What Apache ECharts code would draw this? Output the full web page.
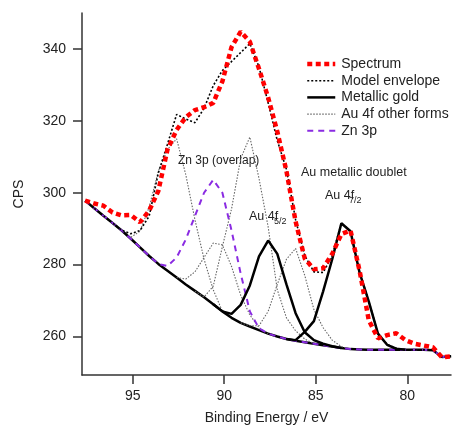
<!DOCTYPE html>
<html>
<head>
<meta charset="utf-8">
<script src="https://cdn.jsdelivr.net/npm/echarts@6/dist/echarts.min.js"></script>
<style>
html,body{margin:0;padding:0;background:#fff;}
#chart{width:454px;height:430px;}
</style>
</head>
<body>
<div id="chart"></div>
<script>
// Binding energies (eV)
const energies = [97.6,97.1,96.6,96.1,95.6,95.1,94.6,94.1,93.6,93.1,92.6,92.1,91.6,91.1,90.6,90.1,89.6,89.1,88.6,88.1,87.6,87.1,86.6,86.1,85.6,85.1,84.6,84.1,83.6,83.1,82.6,82.1,81.6,81.1,80.6,80.1,79.6,79.1,78.6,78.1,77.6];
const xTicks = [80,85,90,95];
const yTicks = [260,280,300,320,340];
const N = null;
const spectrum = [297.8,297.0,296.4,294.5,293.7,293.8,291.8,295.0,300.5,312.0,317.5,321.0,323.0,323.8,325.0,331.0,340.5,344.8,342.0,334.5,326.5,317.0,306.0,292.0,281.7,278.7,279.0,283.0,288.5,289.5,278.2,264.5,259.5,260.4,260.9,259.0,258.0,257.5,257.0,254.2,254.5];
const envelope = [297.8,295.7,293.6,291.6,289.6,288.6,289.5,293.5,305.5,313.5,321.8,320.5,319.5,323.5,329.8,334.0,336.5,339.0,341.5,335.0,325.0,314.5,306.5,292.5,282.5,278.0,277.8,282.5,291.5,289.3,277.7,269.8,260.8,257.8,256.7,256.3,256.3,256.3,256.2,254.3,254.5];
const background = [297.8,295.7,293.6,291.6,289.5,287.2,284.8,282.4,280.2,278.3,276.4,274.5,272.7,270.9,269.0,267.0,265.2,263.8,262.8,261.8,260.8,260.0,259.3,258.8,258.4,258.0,257.6,257.2,256.8,256.5,256.4,256.3,256.3,256.3,256.3,256.3,256.3,256.3,256.2,254.3,254.5];
const zn3p = [297.8,295.7,293.6,291.6,289.5,287.2,284.8,282.4,280.2,279.6,282.0,287.0,293.5,300.0,303.6,300.0,289.5,277.5,267.0,262.3,260.8,260.0,259.3,258.8,258.4,258.0,257.6,257.2,256.8,256.5,256.4,256.3,256.3,256.3,256.3,256.3,256.3,256.3,256.2,254.3,254.5];
const auMetal52 = [N,N,N,N,N,N,N,N,N,N,N,N,N,N,269.0,267.0,266.3,268.8,274.2,282.3,286.7,283.0,274.5,266.5,261.2,259.0,258.0,257.3,256.8,N,N,N,N,N,N,N,N,N,N,N,N];
const auMetal72 = [N,N,N,N,N,N,N,N,N,N,N,N,N,N,N,N,N,N,N,N,N,N,259.3,259.0,261.3,264.3,272.5,281.5,291.5,289.3,277.7,269.7,260.8,257.7,256.6,256.3,N,N,N,N,N];
const auOther1 = [N,N,N,N,N,287.6,289.3,296.0,306.0,312.0,315.0,305.0,292.5,281.5,273.0,267.0,N,N,N,N,N,N,N,N,N,N,N,N,N,N,N,N,N,N,N,N,N,N,N,N,N];
const auOther2 = [N,N,N,N,N,N,N,N,N,N,276.4,276.0,278.0,282.0,286.0,285.5,279.5,271.5,266.0,262.5,260.8,N,N,N,N,N,N,N,N,N,N,N,N,N,N,N,N,N,N,N,N];
const auOther3 = [N,N,N,N,N,N,N,N,N,N,N,N,272.6,271.0,274.0,285.0,295.5,309.5,315.5,304.0,290.5,273.0,265.2,261.6,259.3,258.0,N,N,N,N,N,N,N,N,N,N,N,N,N,N,N];
const auOther4 = [N,N,N,N,N,N,N,N,N,N,N,N,N,N,N,N,N,263.8,263.0,263.0,267.0,274.5,281.5,284.5,277.0,267.5,262.5,259.0,257.2,256.5,N,N,N,N,N,N,N,N,N,N,N];

const pairs = arr => energies.map((e, i) => [e, arr[i]]);
const FONT = 'Liberation Sans, Arial, sans-serif';
const grey = '#666666';

const chart = echarts.init(document.getElementById('chart'), null, {renderer: 'canvas'});

function lineSeries(name, data, color, width, type, z) {
  return {
    name: name, type: 'line', data: pairs(data), symbol: 'none', showSymbol: false,
    lineStyle: {color: color, width: width, type: type, cap: 'butt'},
    itemStyle: {color: color},
    connectNulls: false, silent: true, animation: false, z: z
  };
}

const option = {
  animation: false,
  textStyle: {fontFamily: FONT},
  grid: {left: 82, right: 3, top: 13, bottom: 53},
  xAxis: {
    type: 'value', inverse: true, min: 77.61, max: 97.77,
    name: 'Binding Energy / eV', nameLocation: 'middle', nameGap: 36,
    nameTextStyle: {fontSize: 14, color: '#222', fontFamily: FONT},
    axisLine: {onZero: false, lineStyle: {color: '#333', width: 1.5}},
    axisTick: {customValues: xTicks, length: 9, lineStyle: {color: '#333', width: 1.5}},
    axisLabel: {customValues: xTicks, fontSize: 14, color: '#222', margin: 14, fontFamily: FONT},
    splitLine: {show: false}
  },
  yAxis: {
    type: 'value', min: 249.3, max: 350,
    name: 'CPS', nameLocation: 'middle', nameGap: 56, nameRotate: 90,
    nameTextStyle: {fontSize: 14, color: '#222', fontFamily: FONT},
    axisLine: {show: true, onZero: false, lineStyle: {color: '#333', width: 1.5}},
    axisTick: {show: true, customValues: yTicks, length: 9, lineStyle: {color: '#333', width: 1.5}},
    axisLabel: {customValues: yTicks, fontSize: 14, color: '#222', margin: 16, fontFamily: FONT},
    splitLine: {show: false}
  },
  legend: {
    show: true, orient: 'vertical', left: 300, top: 52,
    itemWidth: 28, itemHeight: 14, itemGap: 2.7,
    itemStyle: {opacity: 0},
    data: [
      {name: 'Spectrum', lineStyle: {width: 4.5}},
      {name: 'Model envelope', lineStyle: {width: 1.6}},
      {name: 'Metallic gold', lineStyle: {width: 2.5}},
      {name: 'Au 4f other forms', lineStyle: {width: 1.1}},
      {name: 'Zn 3p', lineStyle: {width: 2}}
    ],
    textStyle: {fontSize: 14, color: '#222', fontFamily: FONT, padding: [0,0,0,1]},
    selectedMode: false
  },
  series: [
    lineSeries('Background', background, '#000', 2.5, 'solid', 2),
    lineSeries('Au 4f other forms', auOther1, grey, 1.1, [1.5, 1.5], 3),
    lineSeries('Au 4f other forms', auOther2, grey, 1.1, [1.5, 1.5], 3),
    lineSeries('Au 4f other forms', auOther3, grey, 1.1, [1.5, 1.5], 3),
    lineSeries('Au 4f other forms', auOther4, grey, 1.1, [1.5, 1.5], 3),
    lineSeries('Zn 3p', zn3p, '#8a2be2', 2, [6, 5], 4),
    lineSeries('Metallic gold', auMetal52, '#000', 2.5, 'solid', 5),
    lineSeries('Metallic gold', auMetal72, '#000', 2.5, 'solid', 5),
    lineSeries('Model envelope', envelope, '#000', 1.6, [2, 2], 6),
    lineSeries('Spectrum', spectrum, '#ff0000', 4.5, [5, 3.5], 7)
  ],
  graphic: [
    {type: 'text', left: 178, top: 155, style: {text: 'Zn 3p (overlap)', font: '12px ' + FONT, fill: '#222'}},
    {type: 'text', left: 301, top: 166, style: {text: 'Au metallic doublet', font: '12.5px ' + FONT, fill: '#222'}},
    {type: 'text', left: 325, top: 189, style: {text: 'Au 4f', font: '12.5px ' + FONT, fill: '#222'}},
    {type: 'text', left: 349, top: 196, style: {text: '7/2', font: '9px ' + FONT, fill: '#222'}},
    {type: 'text', left: 249, top: 210, style: {text: 'Au 4f', font: '12.5px ' + FONT, fill: '#222'}},
    {type: 'text', left: 274, top: 217, style: {text: '5/2', font: '9px ' + FONT, fill: '#222'}}
  ]
};
chart.setOption(option);
</script>
</body>
</html>
